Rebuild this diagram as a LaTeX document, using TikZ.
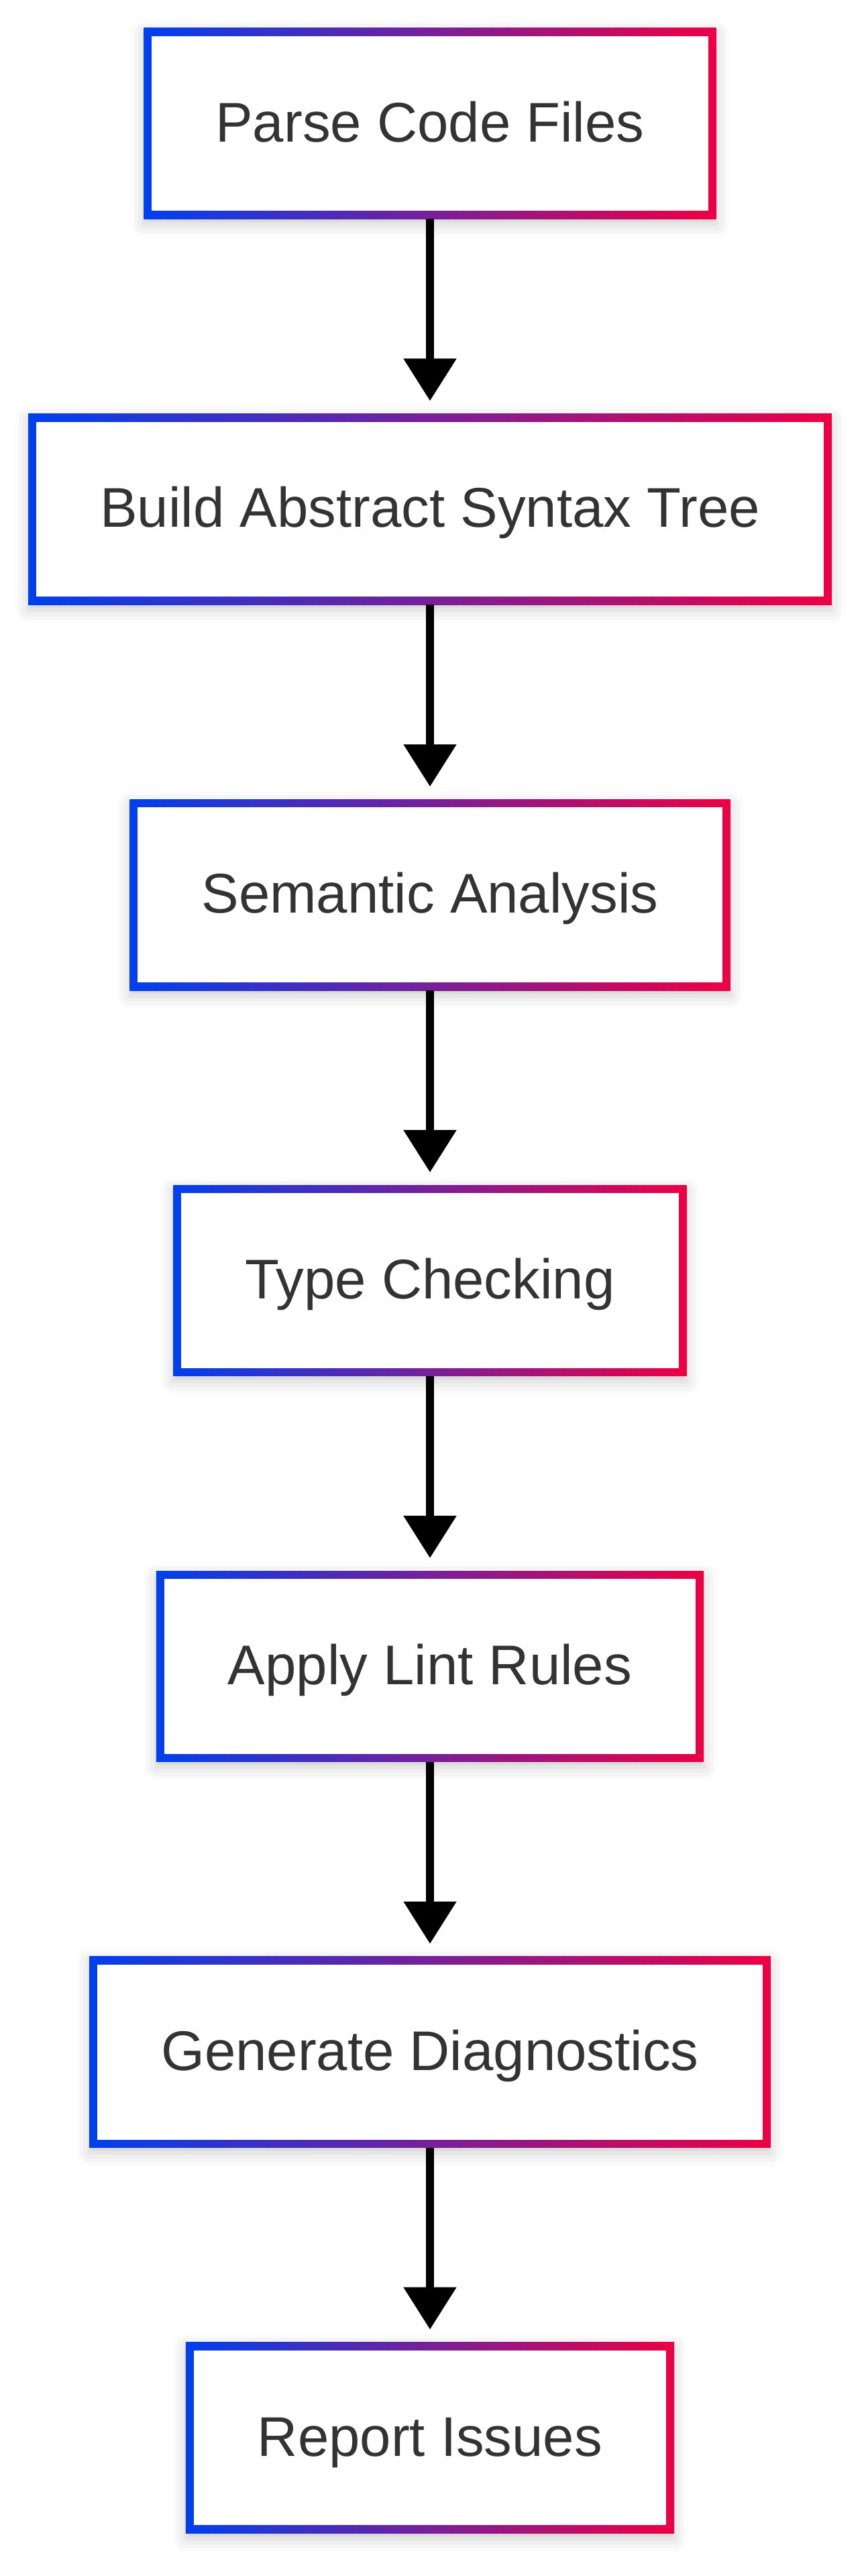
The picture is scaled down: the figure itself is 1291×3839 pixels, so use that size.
\documentclass[tikz,border=0pt]{standalone}
\usepackage{fontspec}
\setmainfont{Liberation Sans}
\usetikzlibrary{
    arrows.meta,
    positioning,
    shadows.blur
}

\begin{document}
\begin{tikzpicture}
    [x=0.01cm,y=-0.01cm,
    % Styles
    stage/.style={rectangle,fill=white,outer sep=0pt,
        minimum height=2.845cm,inner xsep=1.07cm,inner ysep=0pt,
        text height=0.54cm,text depth=0pt,text=labelgray,
        font=\fontsize{23.7pt}{28pt}\selectfont,
        blur shadow={shadow xshift=0pt,shadow yshift=-0.08cm,
            shadow blur radius=0.2cm,shadow opacity=20},
        path picture={
            \shade[left color=edgeblue,right color=edgered]
                (path picture bounding box.south west) rectangle
                (path picture bounding box.north east);
            \fill[white]
                ([shift={(0.12cm,0.12cm)}]path picture bounding box.south west) rectangle
                ([shift={(-0.12cm,-0.12cm)}]path picture bounding box.north east);
        }},
    flow/.style={line width=0.12cm,-{Triangle[width=0.76cm,length=0.63cm]},
        shorten >=0.19cm},
    node distance=2.9cm]

    % Colors
    \definecolor{edgeblue}{RGB}{0,64,238}
    \definecolor{edgered}{RGB}{238,0,68}
    \definecolor{labelgray}{RGB}{51,51,51}

    \useasboundingbox (0,0) rectangle (1291,3839);

    % The stages
    \node[stage] (parse) at (641,184) {Parse Code Files};
    \node[stage,below=of parse] (ast) {Build Abstract Syntax Tree};
    \node[stage,below=of ast] (semantic) {Semantic Analysis};
    \node[stage,below=of semantic] (types) {Type Checking};
    \node[stage,below=of types] (lint) {Apply Lint Rules};
    \node[stage,below=of lint] (diag) {Generate Diagnostics};
    \node[stage,below=of diag] (report) {Report Issues};

    % The arrows between them
    \foreach \from/\to in {parse/ast,ast/semantic,semantic/types,
            types/lint,lint/diag,diag/report}
        \draw[flow] (\from) -- (\to);
\end{tikzpicture}
\end{document}
